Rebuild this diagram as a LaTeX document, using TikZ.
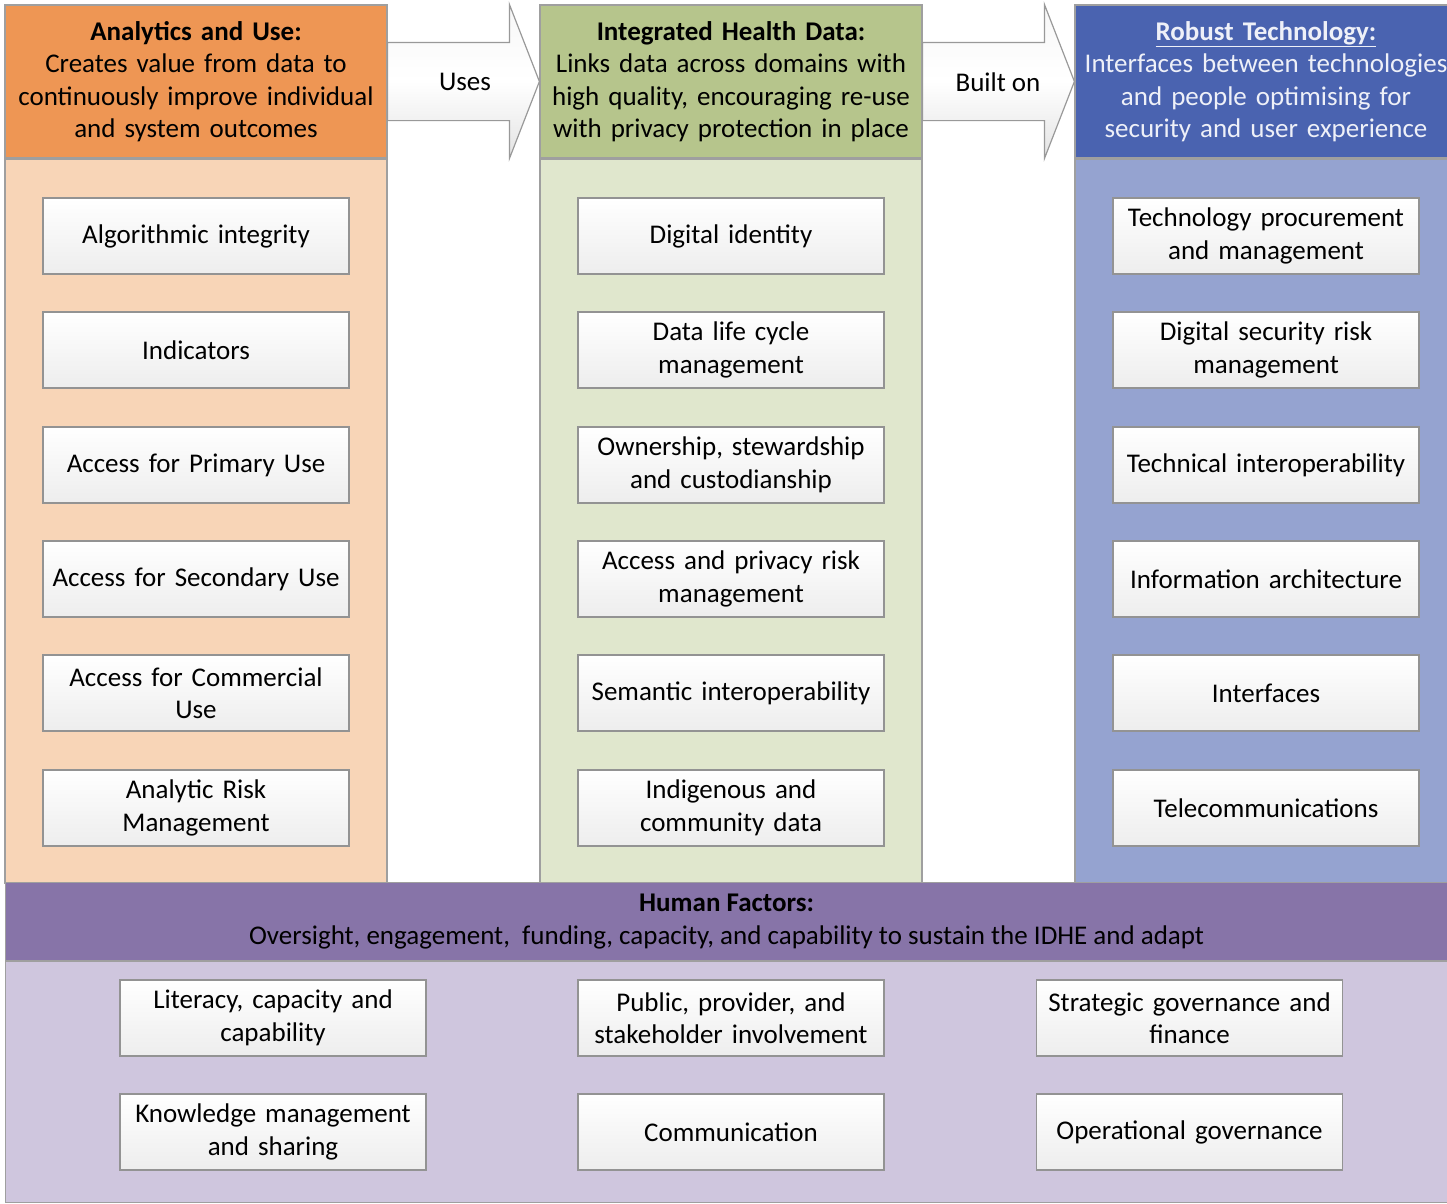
\documentclass[tikz,border=0pt]{standalone}
\usepackage{fontspec}
\setmainfont{Carlito}
\usetikzlibrary{calc}
\definecolor{anaHead}{HTML}{EE9654}
\definecolor{anaBody}{HTML}{F8D5B7}
\definecolor{ihdHead}{HTML}{B6C58C}
\definecolor{ihdBody}{HTML}{E0E7CD}
\definecolor{techHead}{HTML}{4A63B0}
\definecolor{techBody}{HTML}{95A3D0}
\definecolor{humHead}{HTML}{8774A8}
\definecolor{humBody}{HTML}{CFC6DE}
\definecolor{techText}{HTML}{EEF0F8}
\begin{document}
\begin{tikzpicture}[x=1pt, y=-1pt,
  font=\fontsize{27}{32.5}\selectfont,
  colhead/.style={rectangle, draw=gray!75, line width=1.2pt, minimum width=382pt, minimum height=153pt, text width=376pt, inner sep=2pt, align=center},
  colbody/.style={rectangle, draw=gray!75, line width=1.2pt, minimum width=382pt, minimum height=724pt, anchor=north},
  itembox/.style={rectangle, draw=gray!85, line width=1.2pt, top color=white, bottom color=gray!14, minimum width=306pt, minimum height=76pt, text width=302pt, inner sep=1pt, align=center},
  flowarrow/.style={draw=gray!80, line width=1.2pt, top color=gray!6, bottom color=gray!22, middle color=white}]
\useasboundingbox (0,0) rectangle (1447,1203);
% column headers
\node[colhead, fill=anaHead] (hA) at (196,81.5){\textbf{Analytics and Use:}\\Creates value from data to\\continuously improve individual\\and system outcomes};
\node[colhead, fill=ihdHead] (hB) at (731,81.5){\textbf{Integrated Health Data:}\\Links data across domains with\\high quality, encouraging re-use\\with privacy protection in place};
\node[colhead, fill=techHead, text=techText] (hC) at (1266,81.5){\textbf{\underline{Robust Technology:}}\\Interfaces between technologies\\and people optimising for\\security and user experience};
% column bodies
\node[colbody, fill=anaBody] (bA) at (hA.south){};
\node[colbody, fill=ihdBody] (bB) at (hB.south){};
\node[colbody, fill=techBody] (bC) at (hC.south){};
% arrows between headers
\path[flowarrow] ($(hA.north east)+(0,38)$) -- ($(hB.north west)+(-30,38)$) -- ($(hB.north west)+(-30,0)$) -- (hB.west)
  -- ($(hB.south west)+(-30,0)$) -- ($(hB.south west)+(-30,-38)$) -- ($(hA.south east)+(0,-38)$) -- cycle;
\node (uses) at (465,82){Uses};
\path[flowarrow] ($(hB.north east)+(0,38)$) -- ($(hC.north west)+(-30,38)$) -- ($(hC.north west)+(-30,0)$) -- (hC.west)
  -- ($(hC.south west)+(-30,0)$) -- ($(hC.south west)+(-30,-38)$) -- ($(hB.south east)+(0,-38)$) -- cycle;
\node (builton) at (998,82){Built on};
% analytics and use
\node[itembox] (a1) at (196,236){Algorithmic integrity};
\node[itembox] (a2) at (196,350){Indicators};
\node[itembox] (a3) at (196,465){Access for Primary Use};
\node[itembox] (a4) at (196,579){Access for Secondary Use};
\node[itembox] (a5) at (196,693){Access for Commercial\\Use};
\node[itembox] (a6) at (196,808){Analytic Risk\\Management};
% integrated health data
\node[itembox] (d1) at (731,236){Digital identity};
\node[itembox] (d2) at (731,350){Data life cycle\\management};
\node[itembox] (d3) at (731,465){Ownership, stewardship\\and custodianship};
\node[itembox] (d4) at (731,579){Access and privacy risk\\management};
\node[itembox] (d5) at (731,693){Semantic interoperability};
\node[itembox] (d6) at (731,808){Indigenous and\\community data};
% robust technology
\node[itembox] (t1) at (1266,236){Technology procurement\\and management};
\node[itembox] (t2) at (1266,350){Digital security risk\\management};
\node[itembox] (t3) at (1266,465){Technical interoperability};
\node[itembox] (t4) at (1266,579){Information architecture};
\node[itembox] (t5) at (1266,693){Interfaces};
\node[itembox] (t6) at (1266,808){Telecommunications};
% human factors
\node[rectangle, draw=gray!75, line width=1.2pt, fill=humHead, minimum width=1442pt, minimum height=78pt, anchor=north west, align=center] (hH) at (5,882){\textbf{Human Factors:}\\Oversight, engagement,\ \ funding, capacity, and capability to sustain the IDHE and adapt};
\node[rectangle, draw=gray!75, line width=1.2pt, fill=humBody, minimum width=1442pt, minimum height=241pt, anchor=north] (bH) at (hH.south){};
\node[itembox] (h1) at (273,1018){Literacy, capacity and\\capability};
\node[itembox] (h2) at (731,1018){Public, provider, and\\stakeholder involvement};
\node[itembox] (h3) at (1189.5,1018){Strategic governance and\\finance};
\node[itembox] (h4) at (273,1132){Knowledge management\\and sharing};
\node[itembox] (h5) at (731,1132){Communication};
\node[itembox] (h6) at (1189.5,1132){Operational governance};
\end{tikzpicture}
\end{document}
